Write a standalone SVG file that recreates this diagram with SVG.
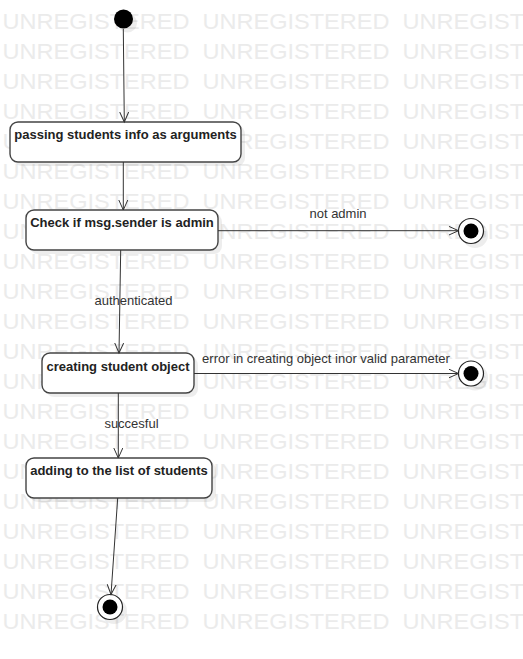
<svg xmlns="http://www.w3.org/2000/svg" xmlns:xlink="http://www.w3.org/1999/xlink" width="523" height="659" viewBox="0 0 523 659">
<style>
.wm{font-family:"Liberation Sans",Arial,sans-serif;font-size:22px;fill:#ebebeb}
.node rect.box{fill:#fff;stroke:#444;stroke-width:1.4}
.shadow{fill:#000;opacity:0.07}
.nt{font-family:"Liberation Sans",Arial,sans-serif;font-size:13px;font-weight:bold;fill:#222;text-anchor:middle}
.lbl{font-family:"Liberation Sans",Arial,sans-serif;font-size:13px;fill:#333;text-anchor:middle}
.edge{stroke:#333;stroke-width:1;fill:none;marker-end:url(#arr)}
</style>
<defs>
<marker id="arr" markerWidth="12" markerHeight="12" refX="10" refY="5" orient="auto" markerUnits="userSpaceOnUse">
<path d="M0,0.5 L10,5 L0,9.5" fill="none" stroke="#333" stroke-width="1"/>
</marker>
<g id="wmrow">
<text class="wm" x="2.5" y="29" textLength="187" lengthAdjust="spacingAndGlyphs">UNREGISTERED</text>
<text class="wm" x="202.5" y="29" textLength="187" lengthAdjust="spacingAndGlyphs">UNREGISTERED</text>
<text class="wm" x="402.5" y="29" textLength="187" lengthAdjust="spacingAndGlyphs">UNREGISTERED</text>
</g>
</defs>
<rect width="523" height="659" fill="#fff"/>
<g id="watermark">
<use xlink:href="#wmrow" y="0"/><use xlink:href="#wmrow" y="30"/><use xlink:href="#wmrow" y="60"/>
<use xlink:href="#wmrow" y="90"/><use xlink:href="#wmrow" y="120"/><use xlink:href="#wmrow" y="150"/>
<use xlink:href="#wmrow" y="180"/><use xlink:href="#wmrow" y="210"/><use xlink:href="#wmrow" y="240"/>
<use xlink:href="#wmrow" y="270"/><use xlink:href="#wmrow" y="300"/><use xlink:href="#wmrow" y="330"/>
<use xlink:href="#wmrow" y="360"/><use xlink:href="#wmrow" y="390"/><use xlink:href="#wmrow" y="420"/>
<use xlink:href="#wmrow" y="450"/><use xlink:href="#wmrow" y="480"/><use xlink:href="#wmrow" y="510"/>
<use xlink:href="#wmrow" y="540"/><use xlink:href="#wmrow" y="570"/><use xlink:href="#wmrow" y="600"/>
</g>
<g id="start">
<circle class="shadow" cx="127.5" cy="23" r="9.5"/>
<circle cx="123.5" cy="19" r="9.5" fill="#000"/>
</g>
<g id="n1" class="node">
<rect class="shadow" x="14" y="126" width="231" height="40" rx="8"/>
<rect class="box" x="10" y="122" width="231" height="40" rx="8"/>
<text class="nt" x="125.5" y="139">passing students info as arguments</text>
</g>
<g id="n2" class="node">
<rect class="shadow" x="30" y="214" width="192" height="40" rx="8"/>
<rect class="box" x="26" y="210" width="192" height="40" rx="8"/>
<text class="nt" x="122" y="227">Check if msg.sender is admin</text>
</g>
<g id="n3" class="node">
<rect class="shadow" x="46" y="357" width="152" height="40" rx="8"/>
<rect class="box" x="42" y="353" width="152" height="40" rx="8"/>
<text class="nt" x="118" y="371">creating student object</text>
</g>
<g id="n4" class="node">
<rect class="shadow" x="30" y="462" width="186" height="40" rx="8"/>
<rect class="box" x="26" y="458" width="186" height="40" rx="8"/>
<text class="nt" x="119" y="475">adding to the list of students</text>
</g>
<g id="end1">
<circle class="shadow" cx="475" cy="235" r="13"/>
<circle cx="471" cy="231" r="12.5" fill="#fff" stroke="#222" stroke-width="1.2"/>
<circle cx="471" cy="231" r="7.5" fill="#000"/>
</g>
<g id="end2">
<circle class="shadow" cx="475" cy="377.5" r="13"/>
<circle cx="471" cy="373.5" r="12.5" fill="#fff" stroke="#222" stroke-width="1.2"/>
<circle cx="471" cy="373.5" r="7.5" fill="#000"/>
</g>
<g id="end3">
<circle class="shadow" cx="114" cy="611" r="13"/>
<circle cx="110" cy="607" r="12.5" fill="#fff" stroke="#222" stroke-width="1.2"/>
<circle cx="110" cy="607" r="7.5" fill="#000"/>
</g>
<g id="connectors">
<line class="edge" x1="123.3" y1="29" x2="124.3" y2="122"/>
<line class="edge" x1="123.3" y1="162" x2="123.3" y2="210"/>
<line class="edge" x1="120.7" y1="250" x2="119" y2="353"/>
<line class="edge" x1="118.3" y1="393" x2="118.3" y2="458"/>
<line class="edge" x1="117.7" y1="498" x2="111" y2="594.5"/>
<line class="edge" x1="218" y1="230.7" x2="458.5" y2="230.7"/>
<line class="edge" x1="194" y1="373.5" x2="458.5" y2="373.5"/>
<text class="lbl" x="133.5" y="305">authenticated</text>
<text class="lbl" x="131.5" y="428">succesful</text>
<text class="lbl" x="338" y="218">not admin</text>
<text class="lbl" x="326" y="362.5">error in creating object inor valid parameter</text>
</g>
</svg>
